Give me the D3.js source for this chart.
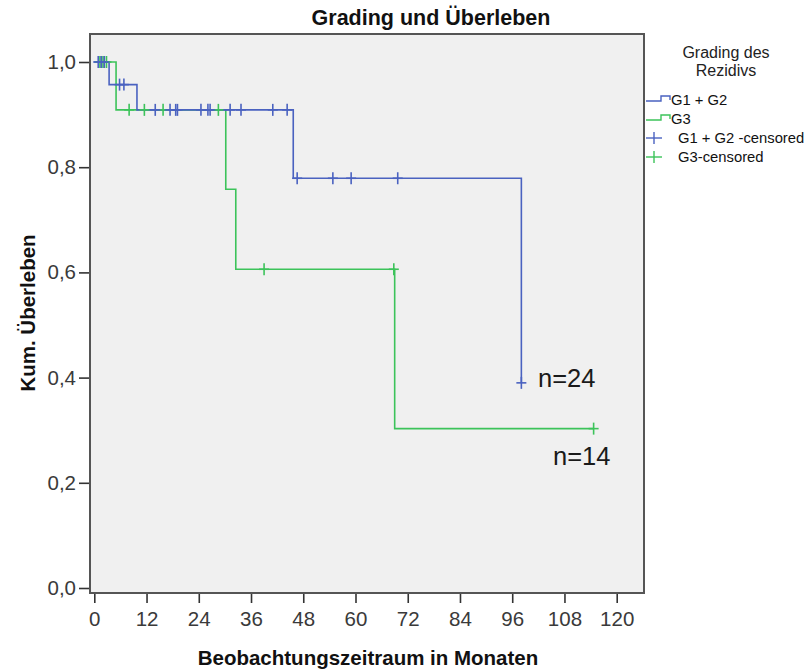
<!DOCTYPE html>
<html>
<head>
<meta charset="utf-8">
<script src="https://cdn.jsdelivr.net/npm/d3@7/dist/d3.min.js"></script>
<style>
  html, body { margin: 0; padding: 0; background: #ffffff; }
  svg { display: block; font-family: "Liberation Sans", Arial, sans-serif; }
</style>
</head>
<body>
<svg id="chart" width="810" height="670"></svg>
<script>
// Kaplan-Meier curves: step times (months) and cumulative survival after each step
const groups = ["G1 + G2", "G3"];
const g12Times = [0, 3.4, 9.8, 45.7, 98.1];
const g12Surv  = [1.0, 0.957, 0.909, 0.779, 0.390];
const g12End   = 98.1;
const g12Censored = [0.9, 1.6, 2.3, 5.8, 6.8, 14.0, 17.4, 18.7, 19.1, 24.5, 26.1, 26.6,
                     31.2, 33.7, 41.0, 44.3, 46.6, 54.8, 59.0, 69.7, 98.1];
const g3Times = [0, 5.0, 30.2, 32.5, 69.0];
const g3Surv  = [1.0, 0.909, 0.758, 0.606, 0.303];
const g3End   = 114.7;
const g3Censored = [1.3, 2.0, 2.8, 8.0, 11.5, 15.8, 28.5, 39.0, 68.8, 114.7];
const sampleSizes = ["n=24", "n=14"];
const xTicks = [0, 12, 24, 36, 48, 60, 72, 84, 96, 108, 120];
const yTicks = [0, 0.2, 0.4, 0.6, 0.8, 1.0];
const legendTitle = ["Grading des", "Rezidivs"];
const legendLabels = ["G1 + G2", "G3", "G1 + G2 -censored", "G3-censored"];

const colors = ["#4a62c0", "#3cc35a"];

const svg = d3.select("#chart");
const frame = { left: 90, top: 34, right: 644, bottom: 593 };

const x = d3.scaleLinear().domain([0, 120]).range([94.3, 616.7]);
const y = d3.scaleLinear().domain([0, 1]).range([588, 62]);

// plot area
svg.append("rect")
  .attr("x", frame.left).attr("y", frame.top)
  .attr("width", frame.right - frame.left).attr("height", frame.bottom - frame.top)
  .attr("fill", "#f0f0f0");

// title
svg.append("text")
  .attr("x", 431).attr("y", 25)
  .attr("text-anchor", "middle")
  .attr("font-size", 21.5).attr("font-weight", "bold").attr("fill", "#111")
  .text("Grading und Überleben");

// axes
const yAxis = d3.axisLeft(y).tickValues(yTicks).tickSize(11).tickPadding(3)
  .tickFormat(d => d3.format(".1f")(d).replace(".", ","));
const gy = svg.append("g").attr("transform", `translate(${frame.left},0)`).call(yAxis);
gy.select(".domain").remove();
gy.selectAll(".tick line").attr("stroke", "#333").attr("stroke-width", 1.6);
gy.selectAll(".tick text").attr("font-size", 20.5).attr("fill", "#3a3a3a")
  .attr("font-family", "'Liberation Sans', Arial, sans-serif");

const xAxis = d3.axisBottom(x).tickValues(xTicks).tickSize(10).tickPadding(8);
const gx = svg.append("g").attr("transform", `translate(0,${frame.bottom})`).call(xAxis);
gx.select(".domain").remove();
gx.selectAll(".tick line").attr("stroke", "#333").attr("stroke-width", 1.6);
gx.selectAll(".tick text").attr("font-size", 20.5).attr("fill", "#3a3a3a")
  .attr("font-family", "'Liberation Sans', Arial, sans-serif");

// axis titles
svg.append("text")
  .attr("x", 368).attr("y", 665)
  .attr("text-anchor", "middle")
  .attr("font-size", 20.5).attr("font-weight", "bold").attr("fill", "#111")
  .text("Beobachtungszeitraum in Monaten");
svg.append("text")
  .attr("transform", "translate(35,313) rotate(-90)")
  .attr("text-anchor", "middle")
  .attr("font-size", 20.5).attr("font-weight", "bold").attr("fill", "#111")
  .text("Kum. Überleben");

// survival step paths
function stepPoints(times, surv, end) {
  const pts = [];
  times.forEach((t, i) => {
    if (i > 0) pts.push([t, surv[i - 1]]);
    pts.push([t, surv[i]]);
  });
  const last = times[times.length - 1];
  if (end > last) pts.push([end, surv[surv.length - 1]]);
  return pts;
}
function survAt(times, surv, t) {
  let s = surv[0];
  times.forEach((tt, i) => { if (tt <= t) s = surv[i]; });
  return s;
}
const line = d3.line().x(d => x(d[0])).y(d => y(d[1]));

const series = [
  { times: g12Times, surv: g12Surv, end: g12End, cens: g12Censored, color: colors[0] },
  { times: g3Times,  surv: g3Surv,  end: g3End,  cens: g3Censored,  color: colors[1] }
];

const plot = svg.append("g");
// draw G3 first so the blue curve sits on top where they overlap
[1, 0].forEach(k => {
  const s = series[k];
  plot.append("path")
    .attr("d", line(stepPoints(s.times, s.surv, s.end)))
    .attr("fill", "none").attr("stroke", s.color).attr("stroke-width", 1.6);
});
[1, 0].forEach(k => {
  const s = series[k];
  const g = plot.append("g").attr("stroke", s.color).attr("stroke-width", 1.6);
  s.cens.forEach(t => {
    const cx = x(t), cy = y(survAt(s.times, s.surv, t));
    g.append("line").attr("x1", cx).attr("x2", cx).attr("y1", cy - 6).attr("y2", cy + 6);
    g.append("line").attr("x1", cx - 5).attr("x2", cx + 5).attr("y1", cy).attr("y2", cy);
  });
});

// frame border
svg.append("rect")
  .attr("x", frame.left).attr("y", frame.top)
  .attr("width", frame.right - frame.left).attr("height", frame.bottom - frame.top)
  .attr("fill", "none").attr("stroke", "#555").attr("stroke-width", 2);

// sample size annotations
svg.append("text").attr("x", 538).attr("y", 387)
  .attr("font-size", 25.5).attr("fill", "#1a1a1a").text(sampleSizes[0]);
svg.append("text").attr("x", 553).attr("y", 465)
  .attr("font-size", 25.5).attr("fill", "#1a1a1a").text(sampleSizes[1]);

// legend
const lg = svg.append("g");
legendTitle.forEach((t, i) => {
  lg.append("text").attr("x", 726).attr("y", 58 + i * 18)
    .attr("text-anchor", "middle").attr("font-size", 16).attr("fill", "#222").text(t);
});
const legY = [100, 119, 138, 157];
legendLabels.forEach((lab, i) => {
  const c = colors[i % 2];
  const yy = legY[i];
  if (i < 2) {
    lg.append("path")
      .attr("d", `M646,${yy + 1}H661V${yy - 4}H670V${yy}`)
      .attr("fill", "none").attr("stroke", c).attr("stroke-width", 1.4);
    lg.append("text").attr("x", 671).attr("y", yy + 5)
      .attr("font-size", 14.8).attr("fill", "#111").text(lab);
  } else {
    lg.append("line").attr("x1", 646).attr("x2", 662).attr("y1", yy).attr("y2", yy)
      .attr("stroke", c).attr("stroke-width", 1.4);
    lg.append("line").attr("x1", 654).attr("x2", 654).attr("y1", yy - 6).attr("y2", yy + 6)
      .attr("stroke", c).attr("stroke-width", 1.4);
    lg.append("text").attr("x", 678).attr("y", yy + 5)
      .attr("font-size", 14.8).attr("fill", "#111").text(lab);
  }
});
</script>
</body>
</html>
